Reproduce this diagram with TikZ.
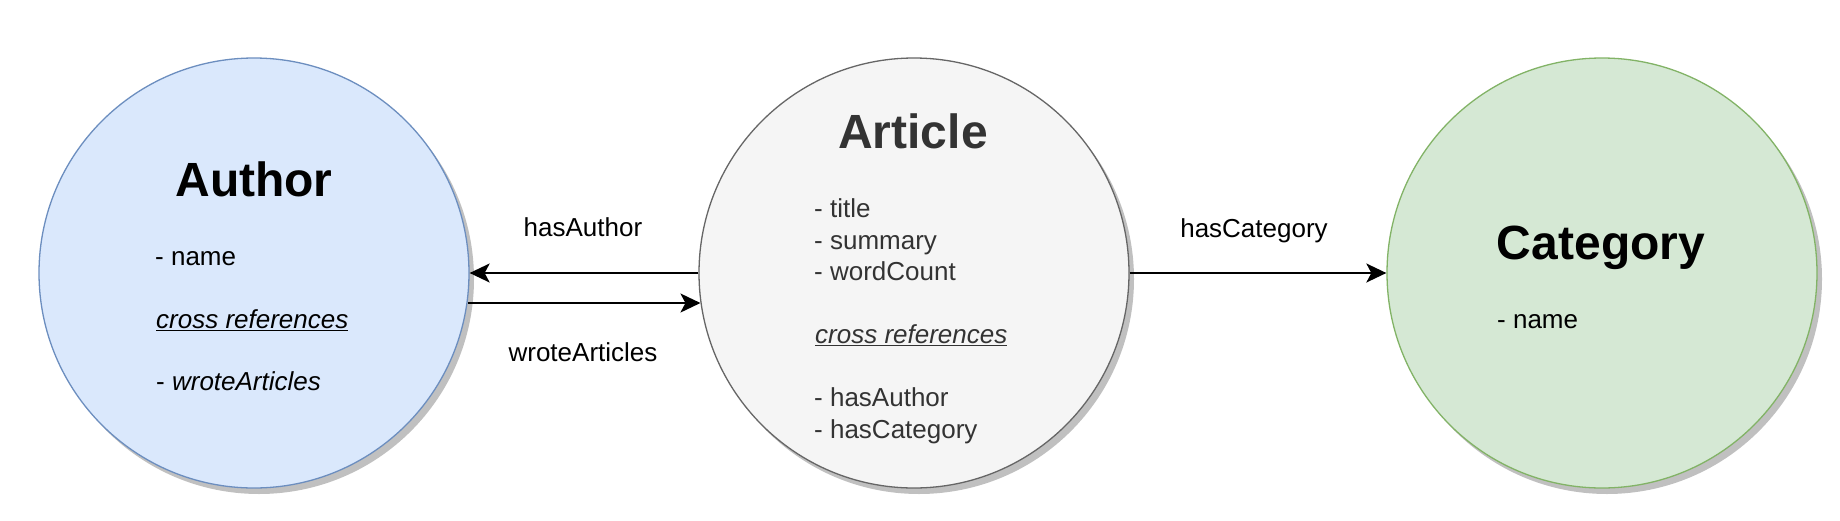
\documentclass[tikz,border=0pt]{standalone}
\usepackage{fontspec}
\setmainfont{Liberation Sans}
\usetikzlibrary{arrows.meta, shadows}

\definecolor{authorfill}{HTML}{DAE8FC}
\definecolor{authorline}{HTML}{6C8EBF}
\definecolor{articlefill}{HTML}{F5F5F5}
\definecolor{articleline}{HTML}{666666}
\definecolor{articletext}{HTML}{333333}
\definecolor{categoryfill}{HTML}{D5E8D4}
\definecolor{categoryline}{HTML}{82B366}
\definecolor{shadowgray}{HTML}{C0C0C0}

\tikzset{
  entity/.style={circle, draw, line width=1.3pt, minimum size=430pt, inner sep=0pt,
    drop shadow={shadow xshift=5pt, shadow yshift=-6pt, fill=shadowgray, opacity=1}},
  entityname/.style={font=\fontsize{48}{56}\selectfont\bfseries},
  attr/.style={anchor=west, inner sep=0pt, align=left, font=\fontsize{26}{31.7}\selectfont},
  relation/.style={line width=2pt, -{Stealth[length=20pt, width=19pt, inset=5pt]}},
  rellabel/.style={font=\fontsize{26}{31.7}\selectfont}
}

\begin{document}
\begin{tikzpicture}[x=1pt, y=1pt]

\useasboundingbox (0,0) rectangle (1840,-520);

%Entity Drawings

\node [entity, draw=authorline, fill=authorfill] (author) at (254,-273) {};
\node [entity, draw=articleline, fill=articlefill] (article) at (914,-273) {};
\node [entity, draw=categoryline, fill=categoryfill] (category) at (1602,-273) {};

%Author text

\node [entityname] (authorname) at (254,-179) {Author};
\node [attr] (authorattr) at (155,-259) {- name};
\node [attr] (authorxref) at (156,-320) {\textit{\underline{cross references}}};
\node [attr] (authorlinks) at (156,-381) {- \textit{wroteArticles}};

%Article text

\node [entityname, text=articletext] (articlename) at (913,-131) {Article};
\node [attr, text=articletext] (articleattr) at (814,-240) {- title\\- summary\\- wordCount};
\node [attr, text=articletext] (articlexref) at (815,-335) {\textit{\underline{cross references}}};
\node [attr, text=articletext] (articlelinks) at (814,-416) {- hasAuthor\\- hasCategory};

%Category text

\node [entityname] (categoryname) at (1601,-248) {Category};
\node [attr] (categoryattr) at (1497,-322) {- name};

%Relations

\draw [relation] (article) -- (author);
\draw [relation] (author.-8) -- (article.188);
\draw [relation] (article) -- (category);

%Relation labels

\node [rellabel] (hasauthor) at (583,-227) {hasAuthor};
\node [rellabel] (wrotearticles) at (583,-352) {wroteArticles};
\node [rellabel] (hascategory) at (1254,-231) {hasCategory};

\end{tikzpicture}
\end{document}
